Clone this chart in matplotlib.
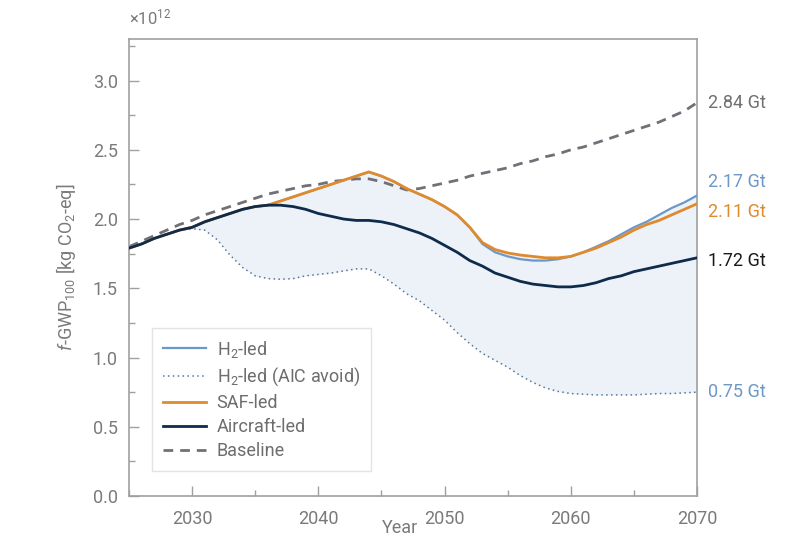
import matplotlib
matplotlib.use("Agg")
import matplotlib.pyplot as plt
import numpy as np
from matplotlib.ticker import MultipleLocator

plt.rcParams['font.family'] = ['Roboto', 'DejaVu Sans']
plt.rcParams['mathtext.fontset'] = 'custom'
plt.rcParams['mathtext.rm'] = 'Roboto'
plt.rcParams['mathtext.it'] = 'Roboto:italic'

years = list(range(2025, 2071))

baseline = [1.80, 1.84, 1.88, 1.92, 1.96, 1.99, 2.03, 2.06, 2.09, 2.12,
            2.15, 2.18, 2.20, 2.22, 2.24, 2.25, 2.27, 2.28, 2.29, 2.29,
            2.27, 2.24, 2.21, 2.22, 2.24, 2.26, 2.28, 2.31, 2.33, 2.35,
            2.37, 2.40, 2.42, 2.45, 2.47, 2.50, 2.52, 2.55, 2.58, 2.61,
            2.64, 2.67, 2.70, 2.74, 2.78, 2.84]

aircraft_led = [1.79, 1.82, 1.86, 1.89, 1.92, 1.94, 1.98, 2.01, 2.04, 2.07,
                2.09, 2.10, 2.10, 2.09, 2.07, 2.04, 2.02, 2.00, 1.99, 1.99,
                1.98, 1.96, 1.93, 1.90, 1.86, 1.81, 1.76, 1.70, 1.66, 1.61,
                1.58, 1.55, 1.53, 1.52, 1.51, 1.51, 1.52, 1.54, 1.57, 1.59,
                1.62, 1.64, 1.66, 1.68, 1.70, 1.72]

saf_led = [1.79, 1.82, 1.86, 1.89, 1.92, 1.94, 1.98, 2.01, 2.04, 2.07,
           2.09, 2.10, 2.13, 2.16, 2.19, 2.22, 2.25, 2.28, 2.31, 2.34,
           2.31, 2.27, 2.22, 2.18, 2.14, 2.09, 2.03, 1.94, 1.83, 1.78,
           1.755, 1.74, 1.73, 1.72, 1.72, 1.73, 1.76, 1.79, 1.83, 1.87,
           1.92, 1.96, 1.99, 2.03, 2.07, 2.11]

h2_led = [1.79, 1.82, 1.86, 1.89, 1.92, 1.94, 1.98, 2.01, 2.04, 2.07,
          2.09, 2.10, 2.13, 2.16, 2.19, 2.22, 2.25, 2.28, 2.31, 2.34,
          2.31, 2.27, 2.22, 2.18, 2.14, 2.09, 2.03, 1.94, 1.82, 1.76,
          1.73, 1.71, 1.70, 1.70, 1.71, 1.73, 1.76, 1.80, 1.84, 1.89,
          1.94, 1.98, 2.03, 2.08, 2.12, 2.17]

h2_led_aic = [1.79, 1.82, 1.86, 1.89, 1.92, 1.93, 1.92, 1.85, 1.74, 1.65,
              1.59, 1.57, 1.565, 1.57, 1.59, 1.60, 1.61, 1.625, 1.64, 1.64,
              1.59, 1.53, 1.46, 1.41, 1.34, 1.27, 1.18, 1.10, 1.03, 0.98,
              0.93, 0.87, 0.82, 0.78, 0.755, 0.74, 0.735, 0.73, 0.73, 0.73,
              0.73, 0.735, 0.74, 0.74, 0.745, 0.75]

end_labels = ["2.84 Gt", "2.17 Gt", "2.11 Gt", "1.72 Gt", "0.75 Gt"]

C_H2 = '#6d98c6'
C_AIC = '#56779a'
C_SAF = '#e08a2e'
C_AIR = '#0f2b4c'
C_BASE = '#707078'
C_FILL = '#edf2f9'
C_TXT = '#7a7a7a'
C_SPINE = '#a0a0a0'

fig = plt.figure(figsize=(8, 5.39), dpi=100)
ax = fig.add_axes([129/800, 1-496/539, (697-129)/800, (496-39)/539])

upper = np.maximum.reduce([np.array(h2_led), np.array(saf_led), np.array(aircraft_led)])
ax.fill_between(years, h2_led_aic, upper, color=C_FILL, lw=0, zorder=1)

ax.plot(years, h2_led, color=C_H2, lw=1.6, label='H$_2$-led', zorder=3)
ax.plot(years, h2_led_aic, color=C_AIC, lw=1.1, ls=(0, (1, 2.2)), label='H$_2$-led (AIC avoid)', zorder=3)
ax.plot(years, saf_led, color=C_SAF, lw=2.0, label='SAF-led', zorder=4)
ax.plot(years, aircraft_led, color=C_AIR, lw=2.0, label='Aircraft-led', zorder=5)
ax.plot(years, baseline, color=C_BASE, lw=2.0, ls=(0, (3.5, 2.5)), label='Baseline', zorder=2)

ax.set_xlim(2025, 2070)
ax.set_ylim(0, 3.3)
ax.xaxis.set_minor_locator(MultipleLocator(5))
ax.yaxis.set_minor_locator(MultipleLocator(0.25))
ax.set_yticks(np.arange(0, 3.01, 0.5))
ax.set_yticklabels([f"{v:.1f}" for v in np.arange(0, 3.01, 0.5)])
ax.set_xticks([2030, 2040, 2050, 2060, 2070])

ax.tick_params(which='major', direction='in', length=7, width=1, color=C_SPINE,
               labelcolor=C_TXT, labelsize=13, pad=8)
ax.tick_params(which='minor', direction='in', length=4, width=1, color=C_SPINE)
ax.tick_params(axis='x', pad=10)
for s in ax.spines.values():
    s.set_color(C_SPINE)
    s.set_linewidth(1.2)

ax.set_ylabel(r'$f$-GWP$_{100}$ [kg CO$_2$-eq]', color=C_TXT, fontsize=13)
ax.yaxis.set_label_coords(-0.09, 0.5)
fig.text(400/800, 2/539, 'Year', color=C_TXT, fontsize=13, ha='center', va='bottom')
ax.text(0.0, 1.025, r'$\times$10$^{12}$', transform=ax.transAxes, color=C_TXT,
        fontsize=12, ha='left', va='bottom')

series_end = [baseline[-1], h2_led[-1], saf_led[-1], aircraft_led[-1], h2_led_aic[-1]]
offsets = [0.0, 0.10, -0.06, -0.02, 0.0]
colors = ['#707070', C_H2, C_SAF, '#1a1a1a', C_H2]
for lab, v, off, c in zip(end_labels, series_end, offsets, colors):
    ax.annotate(lab, xy=(1, v + off), xycoords=('axes fraction', 'data'),
                xytext=(8, 0), textcoords='offset points', color=c,
                fontsize=13, ha='left', va='center', annotation_clip=False)

leg = ax.legend(loc='lower left', bbox_to_anchor=(0.04, 0.055), borderaxespad=0,
                frameon=True, fancybox=False, fontsize=13, handlelength=2.4,
                labelspacing=0.33, borderpad=0.6, handletextpad=0.6)
leg.get_frame().set_edgecolor('#dddddd')
leg.get_frame().set_linewidth(1.0)
for t in leg.get_texts():
    t.set_color('#6d6d6d')

fig.savefig('out.png', dpi=100)
